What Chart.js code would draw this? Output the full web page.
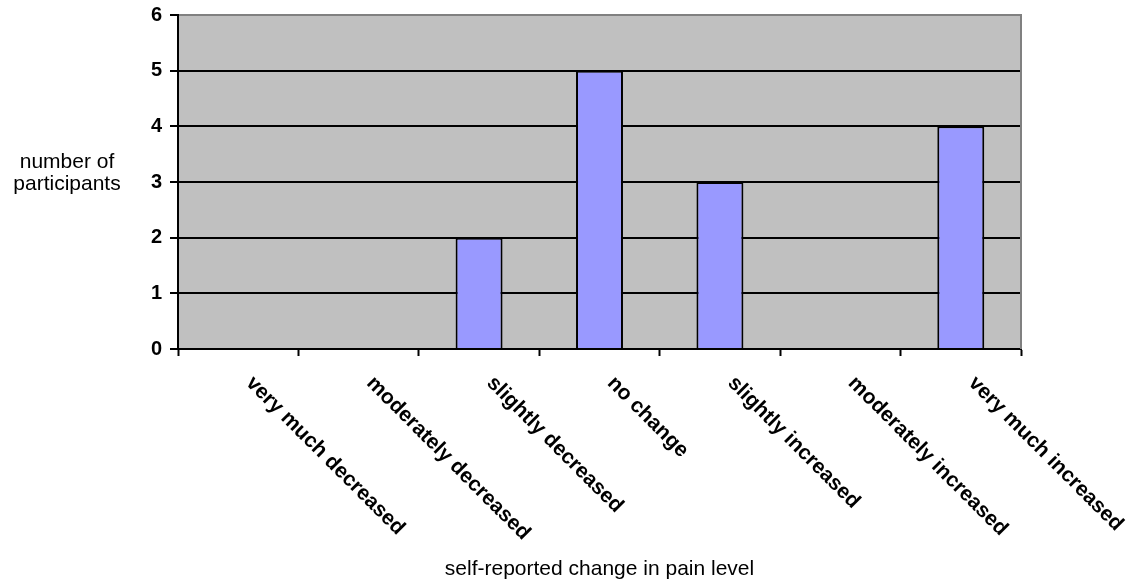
<!DOCTYPE html>
<html>
<head>
<meta charset="utf-8">
<script src="https://cdn.jsdelivr.net/npm/chart.js@4/dist/chart.umd.min.js"></script>
<style>
  html, body { margin: 0; padding: 0; background: #fff; }
  canvas { display: block; }
</style>
</head>
<body>
<canvas id="painChart" width="1134" height="583"></canvas>
<script>
const categories = [
  'very much decreased',
  'moderately decreased',
  'slightly decreased',
  'no change',
  'slightly increased',
  'moderately increased',
  'very much increased',
];
const participants = [0, 0, 2, 5, 3, 0, 4];
const yMin = 0;
const yMax = 6;
const yTitleLines = ['number of', 'participants'];
const xTitle = 'self-reported change in pain level';

const FONT = '"Liberation Sans", Arial, sans-serif';

// gray plot background, behind grid and bars
const plotBackground = {
  id: 'plotBackground',
  beforeDraw(chart) {
    const { ctx, chartArea: a } = chart;
    ctx.save();
    ctx.fillStyle = '#c0c0c0';
    ctx.fillRect(a.left, a.top, a.right - a.left, a.bottom - a.top);
    ctx.restore();
  },
};

// right frame edge, slanted category labels and the two axis titles
const annotations = {
  id: 'annotations',
  afterDraw(chart) {
    const { ctx, chartArea: a } = chart;
    const xScale = chart.scales.x;
    ctx.save();

    ctx.strokeStyle = '#808080';
    ctx.lineWidth = 2;
    ctx.beginPath();
    ctx.moveTo(a.right, a.top - 1);
    ctx.lineTo(a.right, a.bottom);
    ctx.stroke();

    ctx.fillStyle = '#000';
    ctx.font = `bold 21px ${FONT}`;
    ctx.textAlign = 'left';
    ctx.textBaseline = 'alphabetic';
    chart.data.labels.forEach((label, i) => {
      const x = xScale.getPixelForValue(i);
      ctx.save();
      ctx.translate(x + 7, a.bottom + 35);
      ctx.rotate(Math.PI / 4);
      ctx.fillText(label, 0, 0);
      ctx.restore();
    });

    ctx.font = `21px ${FONT}`;
    ctx.textAlign = 'center';
    ctx.fillText(xTitle, (a.left + a.right) / 2, 575);

    ctx.fillText(yTitleLines[0], 67, 168);
    ctx.fillText(yTitleLines[1], 67, 190);
    ctx.restore();
  },
};

new Chart(document.getElementById('painChart'), {
  type: 'bar',
  data: {
    labels: categories,
    datasets: [
      {
        data: participants,
        backgroundColor: '#9999ff',
        borderColor: '#000',
        borderWidth: 2,
        categoryPercentage: 1,
        barPercentage: 0.39,
      },
    ],
  },
  options: {
    responsive: false,
    animation: false,
    layout: { padding: { top: 15, right: 113, left: 0, bottom: 0 } },
    plugins: {
      legend: { display: false },
      tooltip: { enabled: false },
    },
    scales: {
      x: {
        offset: true,
        ticks: { display: false },
        grid: {
          offset: true,
          drawOnChartArea: false,
          drawTicks: true,
          tickLength: 7,
          tickColor: '#000',
          tickWidth: 2,
        },
        border: { display: true, color: '#000', width: 2 },
        afterFit: (scale) => { scale.height = 583 - 349; },
      },
      y: {
        min: yMin,
        max: yMax,
        ticks: {
          stepSize: 1,
          color: '#000',
          padding: 8,
          font: { family: FONT, size: 20, weight: 'bold' },
        },
        grid: {
          color: (c) => (c.tick && c.tick.value === yMax ? '#808080' : '#000'),
          lineWidth: 2,
          tickLength: 8,
          tickColor: '#000',
          tickWidth: 2,
        },
        border: { display: true, color: '#000', width: 2 },
        afterFit: (scale) => {
          scale.width = 178;
          scale.paddingTop = 0;
          scale.paddingBottom = 0;
        },
      },
    },
  },
  plugins: [plotBackground, annotations],
});
</script>
</body>
</html>
